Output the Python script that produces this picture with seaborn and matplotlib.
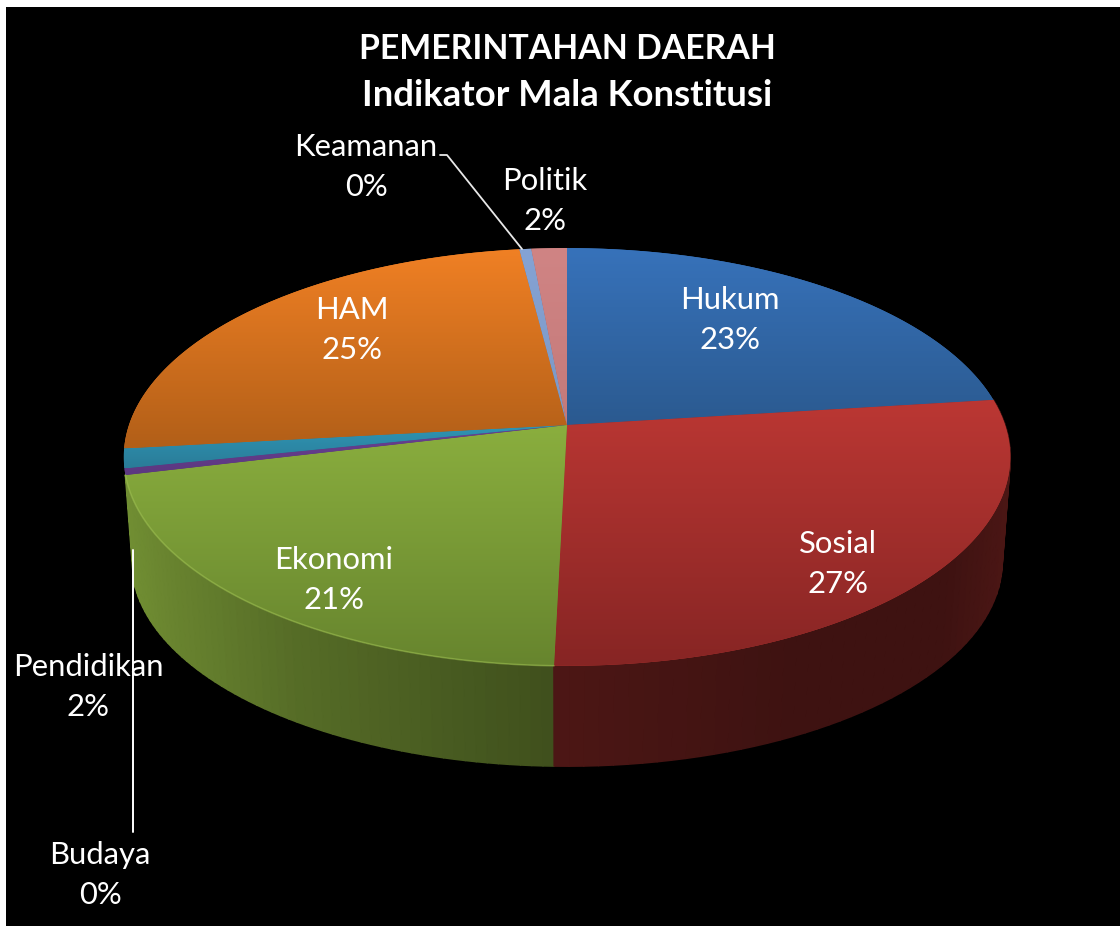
import numpy as np
import matplotlib
matplotlib.use('Agg')
import matplotlib.pyplot as plt
import matplotlib.transforms as mtransforms
from matplotlib.collections import PolyCollection
from matplotlib.colors import to_rgb
from matplotlib.path import Path
import seaborn as sns

#%% data

categories = ['Hukum', 'Sosial', 'Ekonomi', 'Budaya', 'Pendidikan', 'HAM', 'Keamanan', 'Politik']
shares = [0.230, 0.274, 0.208, 0.005, 0.015, 0.248, 0.005, 0.015]

# colour at top / bottom of each slice
colors_top = ['#3772ba', '#bb3733', '#8aae3e', '#6a4194', '#2f95b4', '#f08024', '#85a3d4', '#d08484']
colors_bottom = ['#2b5a90', '#872524', '#67852e', '#5c3880', '#2a7c98', '#b25f18', '#7c98c4', '#c47a7a']

label_pos = {'Hukum': (730, 320), 'Sosial': (838, 564), 'Ekonomi': (334, 580), 'Budaya': (100, 875),
             'Pendidikan': (88, 687), 'HAM': (352, 330), 'Keamanan': (366, 167), 'Politik': (545, 201)}

# how dark the side wall is along the x axis
wall_shade = {'Sosial': ([555, 800, 950, 1010], [0.41, 0.33, 0.33, 0.40]),
              'Ekonomi': ([125, 170, 300, 555], [0.82, 0.76, 0.62, 0.46])}


#%% perspective of the pie disc

class Disc(mtransforms.Transform):
    input_dims = 2
    output_dims = 2
    is_separable = False
    has_inverse = False

    def __init__(self, cx, cy, rx, ry, tilt=0.153):
        super().__init__()
        self.cx, self.cy, self.rx, self.ry, self.tilt = cx, cy, rx, ry, tilt

    def transform_non_affine(self, values):
        values = np.asarray(values)
        w = 1 + self.tilt * values[:, 1]
        return np.column_stack([self.cx + self.rx * values[:, 0] / w,
                                self.cy - self.ry * values[:, 1] / w])

    def transform_path_non_affine(self, path):
        # curves are sampled, bezier control points do not survive the perspective
        pts = [bez(np.linspace(0, 1, 40)) for bez, code in path.iter_bezier() if code != Path.MOVETO]
        return Path(self.transform(np.vstack(pts)))


top = Disc(567, 425, 438, 204)
bottom = Disc(567, 530, 430, 200)


def on_circle(frac):
    angle = 2 * np.pi * np.asarray(frac)
    return np.column_stack([np.sin(angle), np.cos(angle)])


#%% plotting

sns.set_style('white', {'axes.facecolor': 'black'})
plt.rcParams['font.family'] = ['Lato', 'DejaVu Sans']

fig = plt.figure(figsize=(11.2, 9.26), dpi=100, facecolor='white')
ax = fig.add_axes([6 / 1120, 0, 1114 / 1120, 919 / 926])

palette_top = sns.color_palette(colors_top)
palette_bottom = sns.color_palette(colors_bottom)

wedges, _ = ax.pie(shares, startangle=90, counterclock=False, radius=1, colors=palette_top)
ax.set_aspect('auto')
ax.set_frame_on(True)
sns.despine(ax=ax, left=True, bottom=True)
ax.set_xticks([])
ax.set_yticks([])

# side wall, strips going from back to front
edges = np.concatenate([[0], np.cumsum(shares)])
strips, strip_colors, strip_depth = [], [], []
for i, name in enumerate(categories):
    if name not in wall_shade:
        continue
    fr = np.linspace(edges[i], edges[i + 1], 60)
    upper = top.transform(on_circle(fr))
    lower = bottom.transform(on_circle(fr))
    base = np.array(to_rgb(colors_top[i]))
    for j in range(len(fr) - 1):
        strips.append([upper[j], upper[j + 1], lower[j + 1], lower[j]])
        strip_colors.append(base * np.interp(upper[j, 0], *wall_shade[name]))
        strip_depth.append(np.cos(2 * np.pi * fr[j]))
order = np.argsort(strip_depth)[::-1]
ax.add_collection(PolyCollection([strips[k] for k in order], facecolors=[strip_colors[k] for k in order],
                                 edgecolors=[strip_colors[k] for k in order], linewidths=1.2, zorder=1))

# slices of the top disc, each with its own vertical gradient
for i, w in enumerate(wedges):
    w.set_transform(top + ax.transData)
    w.set_zorder(2)
    w.set_linewidth(0)
    box = top.transform_path_non_affine(w.get_path()).get_extents()
    grad = np.linspace(0, 1, 64)[:, None, None]
    img = np.array(palette_top[i]) * (1 - grad) + np.array(palette_bottom[i]) * grad
    im = ax.imshow(img, extent=(box.x0, box.x1, box.y1, box.y0), aspect='auto', zorder=3, interpolation='bilinear')
    im.set_clip_path(w)

# light rim on the green slice
fr = np.linspace(edges[2], edges[3], 200)
rim = top.transform(on_circle(fr))
ax.plot(rim[:, 0], rim[:, 1], color='#a0c254', lw=1.2, alpha=0.5, zorder=4)

# leader lines
ax.plot([133, 133], [550, 832], color='white', lw=1.4, zorder=5)
ax.plot([440, 447, 522], [155, 155, 249], color='#e8e8e8', lw=1.3, zorder=5)

for name, share in zip(categories, shares):
    x, y = label_pos[name]
    ax.text(x, y, '%s\n%.0f%%' % (name, share * 100), color='white', fontsize=22.3, ha='center', va='center',
            linespacing=1.52, zorder=6)

ax.text(567, 49, 'PEMERINTAHAN DAERAH', color='white', fontsize=24.3, fontweight='bold', ha='center', va='center', zorder=6)
ax.text(567, 96, 'Indikator Mala Konstitusi', color='white', fontsize=26.3, fontweight='bold', ha='center', va='center', zorder=6)

ax.set_xlim(6, 1120)
ax.set_ylim(926, 7)

fig.savefig('out.png', dpi=100, facecolor='white')
